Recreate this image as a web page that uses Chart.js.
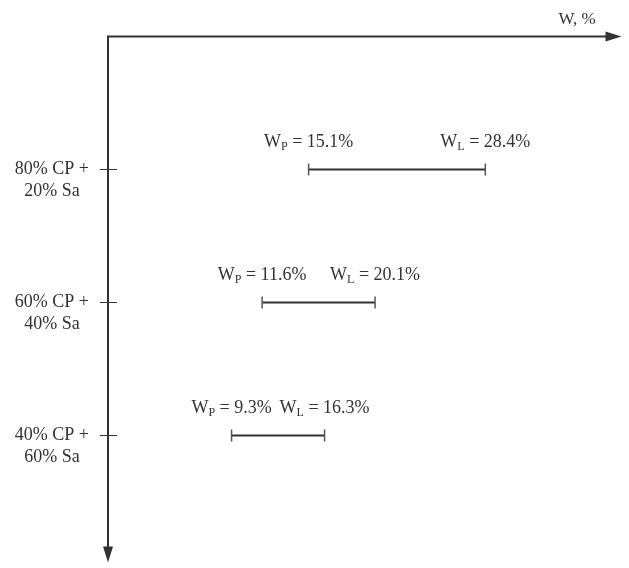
<!DOCTYPE html>
<html>
<head>
<meta charset="utf-8">
<script src="https://cdn.jsdelivr.net/npm/chart.js@4"></script>
<style>
  html, body { margin: 0; padding: 0; background: #fff; }
</style>
</head>
<body>
<canvas id="chart" width="629" height="568"></canvas>
<script>
// data
var categories = [["80% CP +", "20% Sa"], ["60% CP +", "40% Sa"], ["40% CP +", "60% Sa"]];
var plasticLimit = [15.1, 11.6, 9.3];
var liquidLimit = [28.4, 20.1, 16.3];
var axisTitle = "W, %";

var FONT = "'Liberation Serif', 'DejaVu Serif', serif";
var INK = "#333333";

var datasets = [];
for (var i = 0; i < categories.length; i++) {
    datasets.push({
        data: [{x: plasticLimit[i], y: i + 1}, {x: liquidLimit[i], y: i + 1}],
        borderColor: INK,
        borderWidth: 2,
        pointStyle: "line",
        rotation: 90,
        pointRadius: 6,
        pointBorderColor: "#555555",
        pointBorderWidth: 1.5,
        showLine: true
    });
}

// writes "W" + subscript + rest, centered on x
function limitText(ctx, x, y, sub, value) {
    var parts = [
        {t: "W", f: "18px " + FONT, dy: 0},
        {t: sub, f: "12px " + FONT, dy: 4},
        {t: " = " + value + "%", f: "18px " + FONT, dy: 0}
    ];
    var total = 0;
    parts.forEach(function (p) { ctx.font = p.f; p.w = ctx.measureText(p.t).width; total += p.w; });
    var cx = x - total / 2;
    parts.forEach(function (p) {
        ctx.font = p.f;
        ctx.fillText(p.t, cx, y + p.dy);
        cx += p.w;
    });
}

var axesPlugin = {
    id: "axesPlugin",
    afterDraw: function (chart) {
        var ctx = chart.ctx;
        var xs = chart.scales.x, ys = chart.scales.y;
        var x0 = xs.getPixelForValue(0), y0 = ys.getPixelForValue(0);
        var xEnd = chart.chartArea.right, yEnd = chart.chartArea.bottom + 2;
        ctx.save();
        ctx.strokeStyle = INK;
        ctx.fillStyle = INK;
        ctx.lineWidth = 2;
        // axes
        ctx.beginPath();
        ctx.moveTo(xEnd - 12, y0);
        ctx.lineTo(x0, y0);
        ctx.lineTo(x0, yEnd - 12);
        ctx.stroke();
        // arrow heads
        ctx.beginPath();
        ctx.moveTo(xEnd, y0);
        ctx.lineTo(xEnd - 16, y0 - 5);
        ctx.lineTo(xEnd - 16, y0 + 5);
        ctx.closePath();
        ctx.fill();
        ctx.beginPath();
        ctx.moveTo(x0, yEnd);
        ctx.lineTo(x0 - 5, yEnd - 16);
        ctx.lineTo(x0 + 5, yEnd - 16);
        ctx.closePath();
        ctx.fill();
        // category ticks across the axis
        ctx.lineWidth = 1;
        for (var i = 0; i < categories.length; i++) {
            var ty = ys.getPixelForValue(i + 1);
            ctx.beginPath();
            ctx.moveTo(x0 - 8, ty);
            ctx.lineTo(x0 + 9, ty);
            ctx.stroke();
        }
        // axis title
        ctx.font = "17px " + FONT;
        ctx.textAlign = "center";
        ctx.textBaseline = "middle";
        ctx.fillText(axisTitle, 577, 20);
        // limit labels
        ctx.textAlign = "left";
        for (var j = 0; j < categories.length; j++) {
            var pts = chart.getDatasetMeta(j).data;
            limitText(ctx, pts[0].x, pts[0].y - 27, "P", plasticLimit[j]);
            limitText(ctx, pts[1].x, pts[1].y - 27, "L", liquidLimit[j]);
        }
        ctx.restore();
    }
};

new Chart(document.getElementById("chart"), {
    type: "scatter",
    data: {datasets: datasets},
    options: {
        responsive: false,
        animation: false,
        devicePixelRatio: 1,
        layout: {padding: {top: 36.5, right: 7, bottom: 0, left: 0}},
        plugins: {legend: {display: false}, tooltip: {enabled: false}},
        scales: {
            x: {
                type: "linear", min: 0, max: 38.65,
                display: false
            },
            y: {
                type: "linear", min: 0, max: 3.94, reverse: true,
                afterBuildTicks: function (scale) {
                    scale.ticks = categories.map(function (c, i) { return {value: i + 1}; });
                },
                afterFit: function (scale) {
                    scale.width = 108;
                    scale.paddingTop = 0;
                    scale.paddingBottom = 0;
                },
                grid: {display: false, drawTicks: false},
                border: {display: false},
                ticks: {
                    crossAlign: "center",
                    padding: 19,
                    labelOffset: 11,
                    color: INK,
                    font: {family: FONT, size: 18, lineHeight: "22px"},
                    callback: function (v) { return categories[v - 1]; }
                }
            }
        }
    },
    plugins: [axesPlugin]
});
</script>
</body>
</html>
